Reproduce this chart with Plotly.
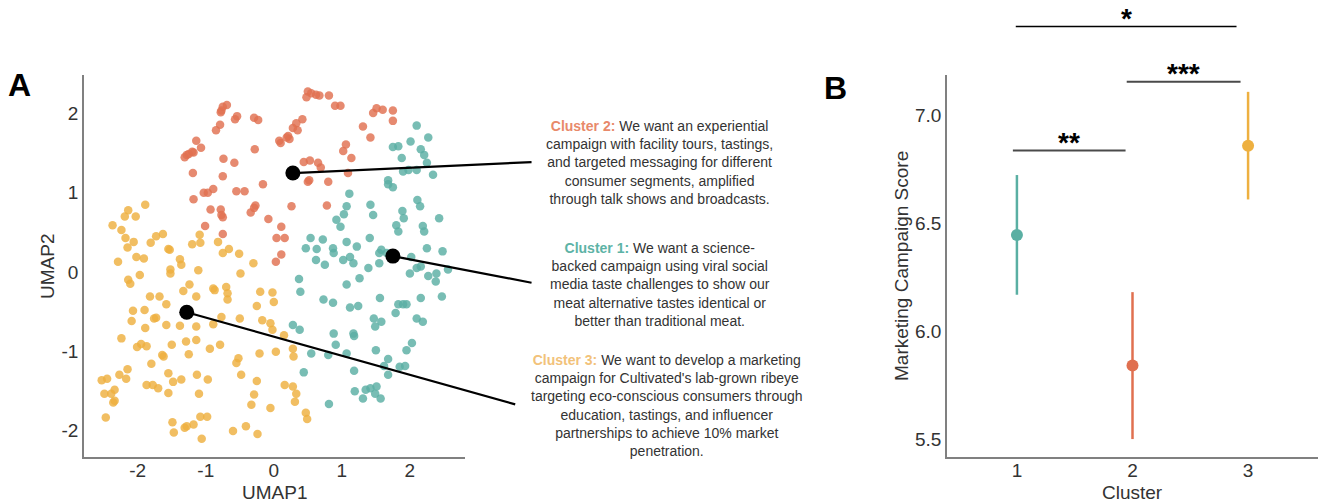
import plotly.graph_objects as go

# ---------------- Panel A data (UMAP coordinates) ----------------
c1_x = [2.10, 2.27, 2.01, 2.16, 2.21, 1.75, 1.83, 1.88, 2.25, 2.34, 2.10, 1.90, 1.98, 1.68, 1.75, 1.68,
        1.11, 1.07, 0.92, 0.98, 1.03, 1.42, 1.46, 2.11, 2.15, 1.89, 1.91, 1.80, 1.83, 2.19, 2.21, 2.43,
        0.54, 0.72, 0.63, 0.47, 0.87, 0.88, 1.07, 1.22, 1.41, 1.02, 1.12, 0.75, 0.62, 1.17, 1.55, 1.58,
        1.66, 2.02, 2.00, 2.10, 2.16, 2.27, 2.39, 2.25, 2.48, 2.56, 2.47, 2.38, 1.07, 1.26, 1.39, 1.55,
        0.37, 0.39, 0.73, 0.87, 1.12, 1.24, 1.56, 1.83, 1.90, 1.95, 2.16, 1.79, 1.47, 1.58, 1.49, 2.10,
        2.19, 0.28, 0.38, 0.88, 1.17, 1.18, 1.50, 1.68, 1.62, 0.55, 0.91, 1.07, 1.85, 1.93, 1.95, 2.03,
        0.80, 1.18, 0.44, 1.42, 1.51, 1.35, 1.19, 1.31, 1.49, 1.57, 0.81, 1.68]
c1_y = [1.85, 1.70, 1.65, 1.55, 1.48, 1.58, 1.59, 1.44, 1.38, 1.23, 1.29, 1.27, 1.29, 1.16, 1.07, 1.11,
        0.99, 0.83, 0.66, 0.57, 0.73, 0.85, 0.72, 0.91, 0.83, 0.77, 0.68, 0.59, 0.51, 0.58, 0.51, 0.68,
        0.43, 0.41, 0.29, 0.30, 0.30, 0.24, 0.38, 0.32, 0.43, 0.15, 0.19, 0.09, 0.15, 0.11, 0.24, 0.28,
        0.24, 0.19, -0.02, 0.05, 0.07, -0.05, -0.02, 0.30, 0.26, 0.03, -0.31, -0.12, -0.16, -0.08, 0.05, 0.11,
        -0.09, -0.25, -0.35, -0.39, -0.45, -0.43, -0.33, -0.41, -0.41, -0.41, -0.33, -0.52, -0.59, -0.63, -0.69, -0.59,
        -0.63, -0.67, -0.73, -0.78, -0.78, -0.81, -0.99, -1.10, -1.19, -1.03, -0.92, -1.03, -1.20, -1.19, -0.99, -0.90,
        -1.05, -1.25, -1.27, -1.47, -1.45, -1.49, -1.51, -1.60, -1.54, -1.60, -1.67, -1.30]

c2_x = [0.50, 0.55, 0.62, 0.67, 0.48, 0.81, 0.90, 0.98, 1.51, 1.60, 1.46, 1.75, 1.75, 1.31, 1.42,
        -0.75, -0.69, -0.78, -0.77, -0.54, -0.57, -0.29, -0.23, -0.79, -0.85, 0.42, 0.33, 0.28, 0.35,
        -1.14, -1.07, -1.20, -1.28, -1.31, -1.25, -1.18, 0.08, 0.10, 0.19, 0.23, 0.21, -0.28, 1.06, 1.02, 1.14,
        -0.74, -0.58, -1.19, -0.75, 0.44, 0.53, 0.65, 0.69, 0.52, 0.50, 0.80, 1.09,
        -1.03, -0.97, -0.89, -0.55, -0.43, -0.16, -1.18, -0.93, -0.78, -0.77, -0.75, -0.34, -0.29, -0.27,
        0.26, 0.78, -0.08, 0.11, -1.01, -0.75, 0.04, 0.16, 0.11, 0.03]
c2_y = [2.28, 2.26, 2.24, 2.23, 2.21, 2.23, 2.10, 2.10, 2.07, 2.05, 2.01, 2.04, 1.91, 1.84, 1.70,
        2.09, 2.11, 2.02, 2.04, 1.97, 1.93, 1.95, 1.92, 1.86, 1.79, 1.93, 1.88, 1.82, 1.79,
        1.66, 1.57, 1.52, 1.48, 1.45, 1.49, 1.51, 1.66, 1.63, 1.70, 1.68, 1.72, 1.55, 1.61, 1.53, 1.44,
        1.43, 1.38, 1.25, 1.21, 1.39, 1.41, 1.38, 1.32, 1.16, 1.14, 1.14, 1.25,
        1.00, 1.00, 1.05, 1.02, 1.02, 1.11, 0.92, 0.79, 0.79, 0.72, 0.69, 0.75, 0.81, 0.84,
        0.83, 0.84, 0.67, 0.57, 0.58, 0.48, 0.43, 0.43, 0.22, 0.13]

c3_x = [-1.89, -2.14, -2.19, -2.03, -2.37, -2.24, -2.18, -2.06, -2.15, -2.29, -2.02, -1.91, -1.81, -1.73,
        -1.63, -1.55, -1.53, -1.38, -1.36, -1.20, -1.08, -1.09, -0.82, -0.66, -0.75, -0.51, -0.30,
        -1.52, -1.52, -1.11, -2.14, -2.11, -1.97, -1.24, -1.33, -1.68, -1.82, -1.58, -1.14, -0.89, -0.87,
        -0.70, -0.68, -0.68, -0.49, -0.20, -0.02, 0.00, -0.25, -2.07, -1.90, -1.76, -1.73, -2.09, -1.58,
        -1.38, -1.14, -0.89, -0.77, -0.50, -0.17, -0.05, -0.02, -1.89, -2.24, -2.01, -1.95, -1.87, -1.64,
        -1.62, -1.50, -1.29, -1.14, -1.25, -0.94, -0.79, -0.52, -0.55, -0.48, -0.21, 0.03, 0.15, 0.28,
        0.29, -1.80, -2.15, -2.27, -2.17, -2.53, -2.45, -2.34, -2.39, -2.49, -2.34, -2.36, -2.47, -1.87,
        -1.78, -1.70, -1.55, -1.55, -1.48, -1.36, -1.13, -0.97, -0.25, 0.16, 0.28, 0.33, 0.31, -0.29,
        -0.33, -0.05, -1.10, -1.49, -1.47, -1.28, -1.18, -1.31, -1.08, -0.98, -1.06, -0.60, -0.41, -0.24,
        0.47, 0.49]
c3_y = [0.85, 0.78, 0.70, 0.70, 0.59, 0.53, 0.43, 0.38, 0.31, 0.13, 0.19, 0.17, 0.37, 0.45,
        0.48, 0.29, 0.28, 0.16, 0.09, 0.35, 0.37, 0.47, 0.38, 0.29, 0.24, 0.23, 0.11,
        0.03, -0.02, 0.02, -0.10, -0.15, -0.04, -0.16, -0.24, -0.31, -0.31, -0.41, -0.31, -0.21, -0.23,
        -0.19, -0.27, -0.35, -0.02, -0.25, -0.26, -0.38, -0.43, -0.49, -0.48, -0.59, -0.58, -0.62, -0.67,
        -0.68, -0.69, -0.66, -0.57, -0.59, -0.61, -0.65, -0.73, -0.71, -0.84, -0.95, -0.91, -0.94, -1.05,
        -1.07, -0.92, -0.88, -0.86, -1.04, -0.97, -0.92, -1.09, -1.15, -1.30, -1.03, -1.01, -0.80, -0.97,
        -1.07, -1.16, -1.23, -1.30, -1.35, -1.37, -1.35, -1.49, -1.54, -1.54, -1.63, -1.65, -1.84, -1.43,
        -1.43, -1.47, -1.53, -1.28, -1.39, -1.36, -1.30, -1.36, -1.38, -1.43, -1.45, -1.54, -1.64, -1.55,
        -1.68, -1.72, -1.54, -1.90, -2.03, -1.95, -1.93, -1.97, -1.83, -1.83, -2.11, -2.01, -1.95, -2.05,
        -1.78, -1.86]

# centroids (cluster 1, 2, 3)
cent_x = [1.75, 0.28, -1.28]
cent_y = [0.20, 1.25, -0.51]
# where each leader line meets its text block (data units of panel A)
leader_x = [3.81, 3.81, 3.57]
leader_y = [-0.14, 1.39, -1.68]

cluster_names = ["Cluster 1:", "Cluster 2:", "Cluster 3:"]
cluster_texts = [
    "We want a science-<br>backed campaign using viral social<br>media taste challenges to show our<br>meat alternative tastes identical or<br>better than traditional meat.",
    "We want an experiential<br>campaign with facility tours, tastings,<br>and targeted messaging for different<br>consumer segments, amplified<br>through talk shows and broadcasts.",
    "We want to develop a marketing<br>campaign for Cultivated's lab-grown ribeye<br>targeting eco-conscious consumers through<br>education, tastings, and influencer<br>partnerships to achieve 10% market<br>penetration.",
]

# ---------------- Panel B data ----------------
clusters = [1, 2, 3]
score_mean = [6.445, 5.840, 6.858]
score_err = [0.277, 0.340, 0.249]

brackets = [  # (x0, x1, y, label)
    (0.965, 1.94, 6.835, "**"),
    (1.95, 2.935, 7.154, "***"),
]
top_bracket = (0.99, 2.90, "*")

# ---------------- styles ----------------
colors = ["#5AAFA3", "#E07050", "#EEB040"]
text_colors = ["#5DB3A6", "#E8896A", "#F2C27A"]
W, H = 1325, 504
FONT = "Liberation Sans, Arial, sans-serif"
TXT = "#333333"

def px_x(p):
    return p / W

def px_y(p):
    return 1 - p / H

fig = go.Figure()

pts = [(c1_x, c1_y), (c2_x, c2_y), (c3_x, c3_y)]
for i, (xs, ys) in enumerate(pts):
    fig.add_trace(go.Scatter(
        x=xs, y=ys, mode="markers", xaxis="x", yaxis="y",
        marker=dict(size=8.5, color=colors[i], opacity=0.82, line=dict(width=0)),
        showlegend=False, hoverinfo="skip"))

fig.add_trace(go.Scatter(
    x=cent_x, y=cent_y, mode="markers", xaxis="x", yaxis="y",
    marker=dict(size=15, color="black"), showlegend=False, hoverinfo="skip"))

for i in range(3):
    fig.add_trace(go.Scatter(
        x=[clusters[i]], y=[score_mean[i]], mode="markers", xaxis="x2", yaxis="y2",
        marker=dict(size=12, color=colors[i]),
        error_y=dict(type="data", array=[score_err[i]], visible=True,
                     color=colors[i], thickness=2.5, width=0),
        showlegend=False, hoverinfo="skip"))

annotations = []
# leader lines
for i in range(3):
    annotations.append(dict(
        x=cent_x[i], y=cent_y[i], xref="x", yref="y",
        ax=leader_x[i], ay=leader_y[i], axref="x", ayref="y",
        text="", showarrow=True, arrowhead=0, arrowwidth=2.2,
        arrowcolor="black", standoff=0, startstandoff=0))

# text blocks
block_pos = [(660, 284), (659, 163), (667, 405)]
for i in range(3):
    cx, cy = block_pos[i]
    annotations.append(dict(
        x=px_x(cx), y=px_y(cy), xref="paper", yref="paper",
        xanchor="center", yanchor="middle", align="center", showarrow=False,
        text=f"<span style='color:{text_colors[i]}'><b>{cluster_names[i]}</b></span> {cluster_texts[i]}",
        font=dict(family=FONT, size=14, color=TXT)))

# panel letters
annotations.append(dict(x=px_x(19), y=px_y(85), xref="paper", yref="paper", text="<b>A</b>",
                        showarrow=False, font=dict(family=FONT, size=32, color="black"),
                        xanchor="center", yanchor="middle"))
annotations.append(dict(x=px_x(836), y=px_y(88), xref="paper", yref="paper", text="<b>B</b>",
                        showarrow=False, font=dict(family=FONT, size=32, color="black"),
                        xanchor="center", yanchor="middle"))

# axis titles
annotations.append(dict(x=px_x(274), y=px_y(492), xref="paper", yref="paper", text="UMAP1",
                        showarrow=False, font=dict(family=FONT, size=19, color=TXT),
                        xanchor="center", yanchor="middle"))
annotations.append(dict(x=px_x(47), y=px_y(267), xref="paper", yref="paper", text="UMAP2",
                        showarrow=False, textangle=-90, font=dict(family=FONT, size=19, color=TXT),
                        xanchor="center", yanchor="middle"))
annotations.append(dict(x=px_x(1132), y=px_y(492), xref="paper", yref="paper", text="Cluster",
                        showarrow=False, font=dict(family=FONT, size=19, color=TXT),
                        xanchor="center", yanchor="middle"))
annotations.append(dict(x=px_x(901), y=px_y(266), xref="paper", yref="paper",
                        text="Marketing Campaign Score",
                        showarrow=False, textangle=-90, font=dict(family=FONT, size=19, color=TXT),
                        xanchor="center", yanchor="middle"))

STAR_SIZE = 28
STAR_SHIFT = -9
shapes = []
for x0, x1, yv, lab in brackets:
    shapes.append(dict(type="line", x0=x0, x1=x1, y0=yv, y1=yv, xref="x2", yref="y2",
                       line=dict(color="#4a4a4a", width=2)))
    annotations.append(dict(x=(x0 + x1) / 2, y=yv, xref="x2", yref="y2", text=f"<b>{lab}</b>",
                            showarrow=False, yanchor="bottom", yshift=STAR_SHIFT,
                            font=dict(family=FONT, size=STAR_SIZE, color="black")))
tx0, tx1, tlab = top_bracket
shapes.append(dict(type="line", x0=tx0, x1=tx1, y0=px_y(26.5), y1=px_y(26.5), xref="x2", yref="paper",
                   line=dict(color="black", width=1.6)))
annotations.append(dict(x=(tx0 + tx1) / 2, y=px_y(26.5), xref="x2", yref="paper", text=f"<b>{tlab}</b>",
                        showarrow=False, yanchor="bottom", yshift=STAR_SHIFT,
                        font=dict(family=FONT, size=STAR_SIZE, color="black")))

axis_common = dict(showgrid=False, zeroline=False, showline=True, linecolor="#808080", linewidth=1.5,
                   ticks="", tickfont=dict(family=FONT, size=19, color=TXT), fixedrange=True)

ydom = [px_y(457), px_y(75)]
fig.update_layout(
    width=W, height=H, margin=dict(l=0, r=0, t=0, b=0),
    paper_bgcolor="white", plot_bgcolor="white",
    xaxis=dict(domain=[px_x(84), px_x(465)], range=[-2.79, 2.81], anchor="y", ticklabelstandoff=-5,
               tickvals=[-2, -1, 0, 1, 2], ticktext=["-2", "-1", "0", "1", "2"], **axis_common),
    yaxis=dict(domain=ydom, range=[-2.34, 2.49], anchor="x",
               tickvals=[-2, -1, 0, 1, 2], ticktext=["-2", "-1", "0", "1", "2"], **axis_common),
    xaxis2=dict(domain=[px_x(947), px_x(1318)], range=[0.395, 3.605], anchor="y2", ticklabelstandoff=-5,
                tickvals=clusters, ticktext=[str(c) for c in clusters], **axis_common),
    yaxis2=dict(domain=ydom, range=[5.417, 7.185], anchor="x2",
                tickvals=[5.5, 6.0, 6.5, 7.0], ticktext=["5.5", "6.0", "6.5", "7.0"], **axis_common),
    annotations=annotations, shapes=shapes,
)

fig.write_html(
    "out.html",
    config={"displayModeBar": False},
    post_script="document.body.style.margin='0';document.body.style.overflow='hidden';",
)
